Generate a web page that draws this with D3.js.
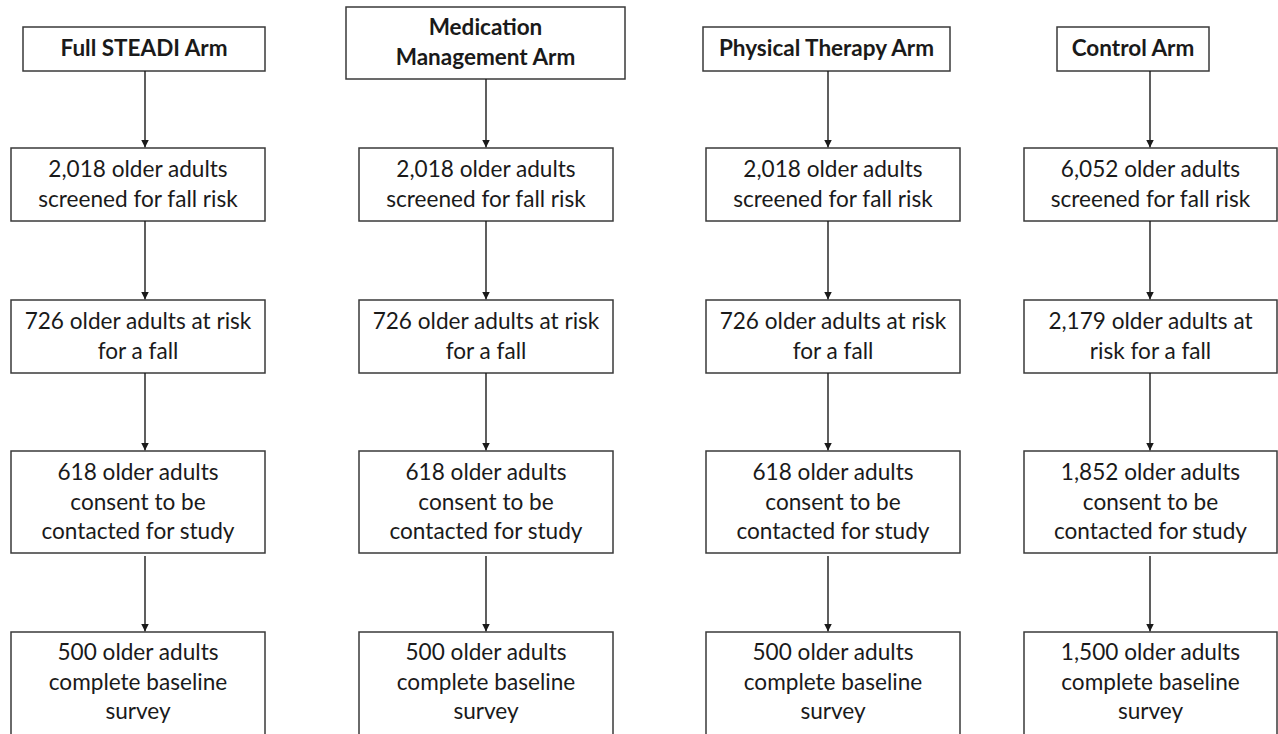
<!DOCTYPE html>
<html>
<head>
<meta charset="utf-8">
<script src="https://cdn.jsdelivr.net/npm/d3@7"></script>
<style>
  html, body { margin: 0; padding: 0; background: #ffffff; }
  svg { display: block; }
</style>
</head>
<body>
<svg id="chart" width="1278" height="734"></svg>
<script>
// ---- data ----
const arms = ["Full STEADI Arm", "Medication Management Arm", "Physical Therapy Arm", "Control Arm"];
const armLines = [["Full STEADI Arm"], ["Medication", "Management Arm"], ["Physical Therapy Arm"], ["Control Arm"]];
const screened = [2018, 2018, 2018, 6052];
const atRisk = [726, 726, 726, 2179];
const consented = [618, 618, 618, 1852];
const completed = [500, 500, 500, 1500];
const stageNames = ["screened", "atRisk", "consented", "completed"];

const fmt = d3.format(",");
const stageText = [
  n => [`${fmt(n)} older adults`, "screened for fall risk"],
  n => n >= 1000 ? [`${fmt(n)} older adults at`, "risk for a fall"] : [`${fmt(n)} older adults at risk`, "for a fall"],
  n => [`${fmt(n)} older adults`, "consent to be", "contacted for study"],
  n => [`${fmt(n)} older adults`, "complete baseline", "survey"]
];
const stageValues = [screened, atRisk, consented, completed];

// ---- layout ----
const svg = d3.select("#chart");
const lineH = 29.5;
const font = "Lato, 'Open Sans', sans-serif";
const stroke = "#3a3a3a";

const boxX = d3.scaleOrdinal().domain(arms).range([11, 359, 706, 1024]);
const boxW = d3.scaleOrdinal().domain(arms).range([254, 254, 254, 253]);
const headX = d3.scaleOrdinal().domain(arms).range([23, 346, 703, 1057]);
const headW = d3.scaleOrdinal().domain(arms).range([242, 279, 247, 152]);
const headY = d3.scaleOrdinal().domain(arms).range([27, 7, 27, 27]);
const headH = d3.scaleOrdinal().domain(arms).range([44, 72, 44, 44]);
const arrowX = d3.scaleOrdinal().domain(arms).range([145, 486, 828, 1150]);

const rowTop = d3.scaleOrdinal().domain(stageNames).range([148, 300, 451, 632]);
const rowH = d3.scaleOrdinal().domain(stageNames).range([73, 73, 102, 120]);

// arrowhead marker
svg.append("defs").append("marker")
  .attr("id", "arrow")
  .attr("viewBox", "0 0 10 10")
  .attr("refX", 10).attr("refY", 5)
  .attr("markerWidth", 8).attr("markerHeight", 8)
  .attr("markerUnits", "userSpaceOnUse")
  .attr("orient", "auto")
  .append("path").attr("d", "M0,0 L10,5 L0,10 Z").attr("fill", "#1a1a1a");

function arrow(x, y1, y2) {
  svg.append("line")
    .attr("x1", x).attr("x2", x).attr("y1", y1).attr("y2", y2 - 0.5)
    .attr("stroke", "#1a1a1a").attr("stroke-width", 1.4)
    .attr("marker-end", "url(#arrow)");
}

function textBlock(cx, cy, lines, opts) {
  const n = lines.length;
  const t = svg.append("text")
    .attr("text-anchor", "middle")
    .attr("font-family", font)
    .attr("font-size", opts.size)
    .attr("font-weight", opts.weight)
    .attr("fill", "#1a1a1a");
  lines.forEach((l, i) => {
    t.append("tspan")
      .attr("x", cx)
      .attr("y", cy + (i - (n - 1) / 2) * opts.lh + 7.5)
      .text(l);
  });
}

arms.forEach((arm, ai) => {
  // header
  svg.append("rect")
    .attr("x", headX(arm)).attr("y", headY(arm))
    .attr("width", headW(arm)).attr("height", headH(arm))
    .attr("fill", "#fff").attr("stroke", stroke).attr("stroke-width", 1.5);
  textBlock(headX(arm) + headW(arm) / 2, headY(arm) + headH(arm) / 2 - 1, armLines[ai],
    { size: 22.5, weight: 700, lh: 30 });

  arrow(arrowX(arm), headY(arm) + headH(arm), rowTop(stageNames[0]));

  stageNames.forEach((stage, si) => {
    const y = rowTop(stage);
    const h = rowH(stage);
    svg.append("rect")
      .attr("x", boxX(arm)).attr("y", y)
      .attr("width", boxW(arm)).attr("height", h)
      .attr("fill", "#fff").attr("stroke", stroke).attr("stroke-width", 1.5);
    const lines = stageText[si](stageValues[si][ai]);
    let cy;
    if (stage === "completed") cy = y + 20.5 + (lines.length - 1) / 2 * lineH;
    else cy = y + h / 2;
    textBlock(boxX(arm) + boxW(arm) / 2, cy, lines, { size: 22.6, weight: 400, lh: lineH });
    if (si < stageNames.length - 1) {
      const yb = y + h + (si === 2 ? 3 : 0);
      arrow(arrowX(arm), yb, rowTop(stageNames[si + 1]));
    }
  });
});
</script>
</body>
</html>
